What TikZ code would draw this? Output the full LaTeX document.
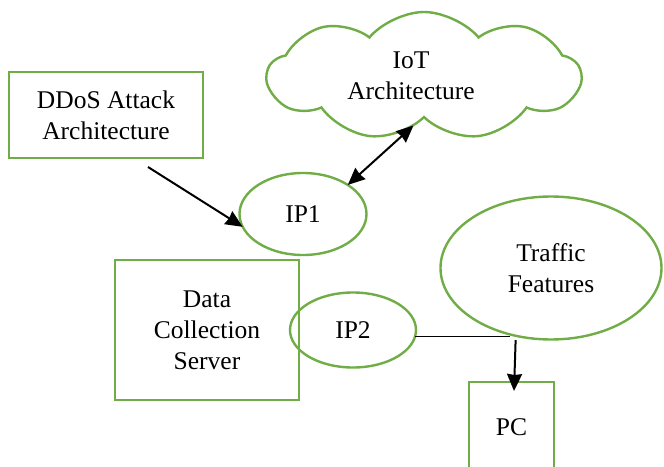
\documentclass[tikz,border=0pt]{standalone}
\usepackage{fontspec}
\setmainfont{Liberation Serif}
\usetikzlibrary{shapes.geometric,shapes.symbols,arrows.meta}
\definecolor{boxgreen}{RGB}{112,173,71}

\begin{document}
\begin{tikzpicture}[x=1pt,y=1pt,->,>={Stealth[length=17pt,width=15pt,inset=1pt]},node distance=100pt,line width=2pt,
    every node/.style={font=\fontsize{25.5}{31}\selectfont,align=center,draw=boxgreen,line width=2.4pt,inner sep=0pt,outer sep=0pt},
    box node/.style={rectangle},
    ip node/.style={ellipse},
    cloud node/.style={cloud,cloud puffs=9,cloud puff arc=100,cloud ignores aspect}]
            \useasboundingbox (-106,115) rectangle (558,-351);

            \node[box node,minimum width=194pt,minimum height=86pt] (ddos) {DDoS Attack\\Architecture};
            % text sits a bit left of the cloud's middle
            \node[cloud node,minimum width=313pt,minimum height=128pt] (iot) [right of = ddos, xshift=218, yshift=39]{IoT\hspace*{26pt}\\Architecture\hspace*{26pt}};
            \node[ip node,minimum width=127pt,minimum height=82pt] (ip1) [below of = ddos, xshift=197, yshift=1]{IP1};

            \node[box node,minimum width=184pt,minimum height=140pt] (server) [below of = ip1, xshift=-96, yshift=-16]{Data\\Collection\\Server};
            \node[ip node,minimum width=126pt,minimum height=75pt] (ip2) [right of = server, xshift=46]{IP2};

            \node[ip node,minimum width=221pt,minimum height=143pt] (traffic) [right of = ip1, xshift=148, yshift=-54]{Traffic\\Features};
            \node[box node,minimum width=85pt,minimum height=90pt] (pc) [below of = traffic, xshift=-39.5, yshift=-59]{PC};

            \path
                ([xshift=42pt,yshift=-9pt]ddos.south) edge (ip1.192)
                (ip1.33) edge[<->] (iot.258)
                (ip2.354) edge[-,line width=1.3pt] (ip2.354 -| traffic.238)
                ([xshift=-2pt]traffic.244) edge[shorten <=4pt] ([xshift=2.5pt,yshift=-9pt]pc.north)
                ;
        \end{tikzpicture}
\end{document}
